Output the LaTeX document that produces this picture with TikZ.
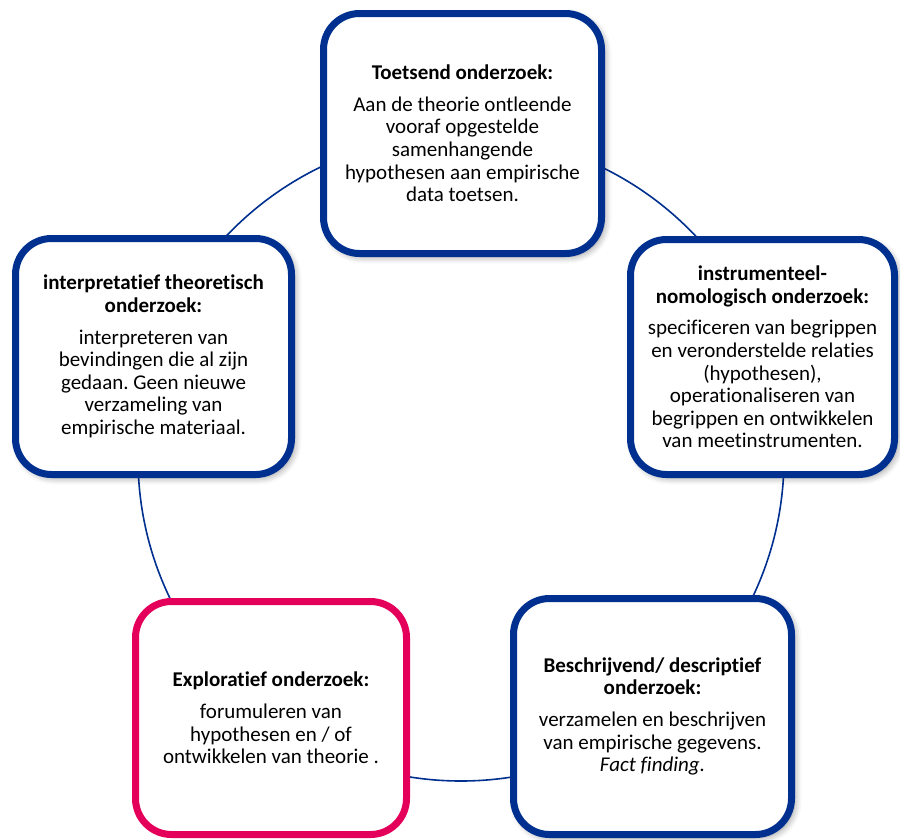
\documentclass[tikz,border=0pt]{standalone}
\usepackage{fontspec}
\setmainfont{Carlito}[Ligatures={NoCommon}]
\usetikzlibrary{shadows.blur}
\frenchspacing

\definecolor{navy}{RGB}{0,48,143}
\definecolor{crimson}{RGB}{228,0,90}

\tikzset{
  ring/.style={draw=navy, line width=1.6pt},
  card/.style={draw=navy, fill=white, line width=7pt, rounded corners=36pt,
    align=center, inner sep=0pt,
    font=\fontsize{21}{22.6}\selectfont},
  shadowed/.style={blur shadow={shadow xshift=3pt, shadow yshift=-3pt,
    shadow blur radius=7pt, shadow opacity=45}},
  pinkcard/.style={card, draw=crimson}
}

\begin{document}
\begin{tikzpicture}[x=1pt, y=-1pt]
  \useasboundingbox (0,0) rectangle (900,839);

  % the cycle the five research types sit on
  \coordinate (c) at (461,458);
  \draw[ring] (c) circle (323pt);

  \node[card, shadowed, minimum width=278pt, minimum height=240pt] (toets) at (462.5,133.5)
    {\textbf{Toetsend onderzoek:}\\[9pt]
     Aan de theorie ontleende\\vooraf opgestelde\\samenhangende\\
     hypothesen aan empirische\\data toetsen.};

  \node[card, shadowed, minimum width=264pt, minimum height=235pt] (instr) at (762.5,357)
    {\textbf{instrumenteel-}\\\textbf{nomologisch onderzoek:}\\[9pt]
     specificeren van begrippen\\en veronderstelde relaties\\(hypothesen),\\
     operationaliseren van\\begrippen en ontwikkelen\\van meetinstrumenten.};

  \node[card, shadowed, minimum width=278pt, minimum height=236pt] (beschr) at (652.5,716.5)
    {\textbf{Beschrijvend/ descriptief}\\\textbf{onderzoek:}\\[9pt]
     verzamelen en beschrijven\\van empirische gegevens.\\\textit{Fact finding.}};

  \node[pinkcard, minimum width=271pt, minimum height=233pt] (explo) at (271,718)
    {\textbf{Exploratief onderzoek:}\\[9pt]
     forumuleren van\\hypothesen en / of\\ontwikkelen van theorie .};

  \node[card, shadowed, minimum width=276pt, minimum height=236pt] (interp) at (153.5,356.5)
    {\textbf{interpretatief theoretisch}\\\textbf{onderzoek:}\\[9pt]
     interpreteren van\\bevindingen die al zijn\\gedaan. Geen nieuwe\\
     verzameling van\\empirische materiaal.};
\end{tikzpicture}
\end{document}
